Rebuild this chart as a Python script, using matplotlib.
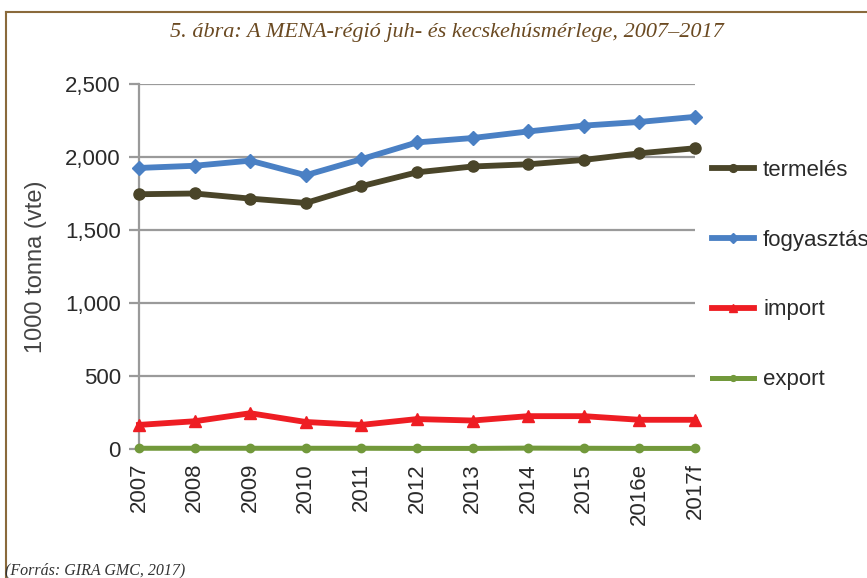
import matplotlib
matplotlib.use("Agg")
import matplotlib.pyplot as plt
from matplotlib.lines import Line2D

# Data (1000 tonna, vte)
years = ["2007", "2008", "2009", "2010", "2011", "2012", "2013", "2014", "2015", "2016e", "2017f"]
termeles = [1745, 1750, 1715, 1685, 1800, 1895, 1935, 1950, 1980, 2025, 2060]
fogyasztas = [1925, 1940, 1975, 1875, 1985, 2100, 2130, 2175, 2215, 2240, 2275]
import_ = [165, 190, 245, 185, 165, 205, 195, 225, 225, 200, 200]
export = [5, 5, 5, 5, 5, 4, 4, 6, 5, 4, 4]

series = [
    ("termelés", termeles, "#4a4529", "o", 8),
    ("fogyasztás", fogyasztas, "#4a80c4", "D", 7),
    ("import", import_, "#ee1d23", "^", 8),
    ("export", export, "#72993b", "o", 6),
]

plt.rcParams["font.family"] = ["Liberation Sans", "DejaVu Sans"]

fig = plt.figure(figsize=(8.67, 5.78), dpi=100)
ax = fig.add_axes([139 / 867, 1 - 449 / 578, 556 / 867, 365 / 578])

x = list(range(len(years)))
handles = []
for name, vals, color, marker, ms in series:
    lw = 4.2 if name != "export" else 3.6
    ax.plot(x, vals, color=color, lw=lw, marker=marker, ms=ms,
            markeredgecolor=color, clip_on=False, zorder=3)
    handles.append(Line2D([0], [0], color=color, lw=lw, marker=marker,
                          ms=ms * 0.7, markeredgecolor=color))

ax.set_xlim(0, len(years) - 1)
ax.set_ylim(0, 2500)
ax.set_yticks([0, 500, 1000, 1500, 2000, 2500])
ax.set_yticklabels(["0", "500", "1,000", "1,500", "2,000", "2,500"])
ax.set_xticks(x)
ax.set_xticklabels(years, rotation=90)

ax.grid(axis="y", color="#9a9a9a", lw=1.6)
ax.set_axisbelow(True)
for s in ["top", "right", "bottom"]:
    ax.spines[s].set_visible(False)
ax.spines["left"].set_color("#9a9a9a")
ax.spines["left"].set_linewidth(1.6)
ax.tick_params(axis="y", length=7, width=1.6, color="#9a9a9a",
               labelsize=16, labelcolor="#2a2a2a", pad=6)
ax.tick_params(axis="x", length=0, labelsize=16, labelcolor="#2a2a2a", pad=10)

ax.set_ylabel("1000 tonna (vte)", fontsize=17, color="#444444")
ax.yaxis.set_label_coords((47 - 139) / 556, 0.5)

fig.legend(handles, [s[0] for s in series], loc="center left",
           bbox_to_anchor=(712 / 867, 1 - 275 / 578), frameon=False,
           fontsize=16, labelspacing=2.2, handlelength=1.9,
           handletextpad=0.4, borderpad=0, borderaxespad=0,
           labelcolor="#2a2a2a")

# title and source, with the brown frame of the page
fig.text(447 / 867, 1 - 33 / 578,
         "5. ábra: A MENA-régió juh- és kecskehúsmérlege, 2007–2017",
         ha="center", va="center", fontsize=16, style="italic",
         family="Liberation Serif", color="#6b4a22")
fig.text(5 / 867, 1 - 570 / 578, "(Forrás: GIRA GMC, 2017)", ha="left",
         va="center", fontsize=11.5, style="italic", family="Liberation Serif",
         color="#333333")
fig.add_artist(Line2D([6 / 867, 1], [1 - 12 / 578, 1 - 12 / 578],
                      color="#8a6a3c", lw=1.5))
fig.add_artist(Line2D([6 / 867, 6 / 867], [1 - 12 / 578, 0],
                      color="#8a6a3c", lw=1.5))

fig.savefig("out.png", dpi=100)
